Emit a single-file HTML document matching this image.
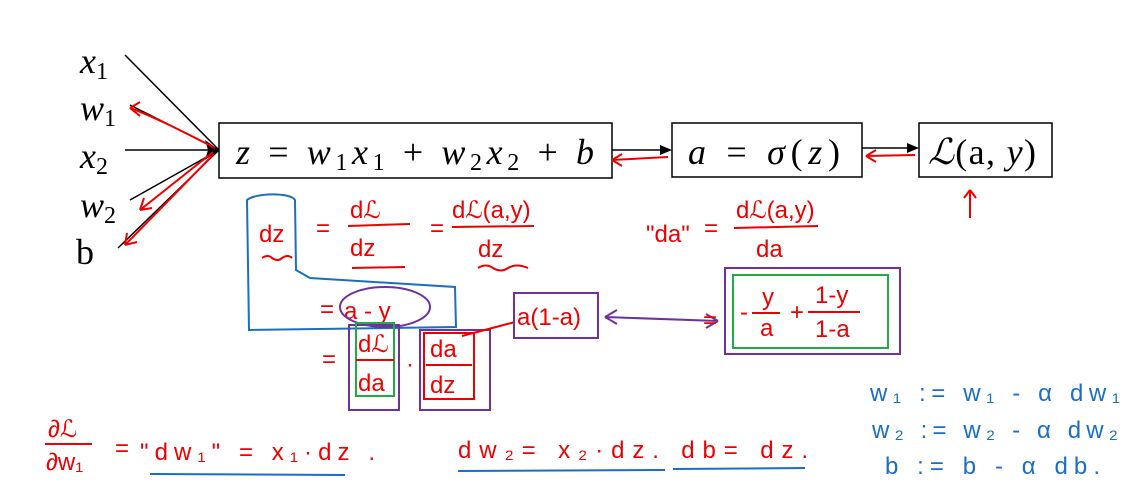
<!DOCTYPE html>
<html><head><meta charset="utf-8"><style>
html,body{margin:0;padding:0;background:#fff;width:1139px;height:495px;overflow:hidden}
svg text{font-family:"Liberation Serif",serif}
.m{font-style:italic;font-size:36px;fill:#000}
.r{font-family:"Liberation Sans",sans-serif!important;fill:#e00;font-size:24px}
.b{font-family:"Liberation Sans",sans-serif!important;fill:#1a6fc4;font-size:24px}
</style></head><body>
<svg width="1139" height="495" viewBox="0 0 1139 495" xmlns="http://www.w3.org/2000/svg">
<text x="80" y="73" class="m">x<tspan font-size="24" dy="6" font-style="normal">1</tspan></text>
<text x="80" y="120" class="m">w<tspan font-size="24" dy="6" font-style="normal">1</tspan></text>
<text x="80" y="168" class="m">x<tspan font-size="24" dy="6" font-style="normal">2</tspan></text>
<text x="80" y="217" class="m">w<tspan font-size="24" dy="6" font-style="normal">2</tspan></text>
<text x="76" y="264" font-size="36" fill="#000">b</text>
<g stroke="#000" stroke-width="1.5">
<line x1="125" y1="55" x2="219" y2="150"/><line x1="130" y1="105" x2="219" y2="150"/>
<line x1="125" y1="150" x2="219" y2="150"/><line x1="130" y1="200" x2="219" y2="150"/>
<line x1="118" y1="248" x2="219" y2="150"/>
</g>
<polygon points="219,150 205,140 208,150 205,160" fill="#000"/>
<g stroke="#e00" stroke-width="2" fill="none">
<path d="M215,148 C180,130 150,115 130,108 M130,108 l10,-6 M130,108 l10,8"/>
<path d="M213,152 L140,210 M140,210 l4,-12 M140,210 l12,-2"/>
<path d="M213,155 L125,245 M125,245 l2,-12 M125,245 l12,-3"/>
</g>
<rect x="219" y="123" width="393" height="55" fill="none" stroke="#000" stroke-width="1.5"/>
<text x="236" y="164" class="m" textLength="358" lengthAdjust="spacing">z <tspan font-style="normal">=</tspan>  w<tspan font-size="24" dy="6" font-style="normal">1</tspan><tspan dy="-6">x</tspan><tspan font-size="24" dy="6" font-style="normal">1</tspan><tspan dy="-6" font-style="normal"> + </tspan>w<tspan font-size="24" dy="6" font-style="normal">2</tspan><tspan dy="-6">x</tspan><tspan font-size="24" dy="6" font-style="normal">2</tspan><tspan dy="-6" font-style="normal"> + </tspan>b</text>
<line x1="612" y1="150" x2="664" y2="150" stroke="#000" stroke-width="1.5"/><polygon points="672,150 660,145 660,155" fill="#000"/>
<rect x="672" y="123" width="190" height="54" fill="none" stroke="#000" stroke-width="1.5"/>
<text x="688" y="164" class="m" textLength="152" lengthAdjust="spacing">a <tspan font-style="normal">=</tspan>  σ<tspan font-style="normal">(</tspan>z<tspan font-style="normal">)</tspan></text>
<line x1="862" y1="148" x2="911" y2="148" stroke="#000" stroke-width="1.5"/><polygon points="919,148 907,143 907,153" fill="#000"/>
<rect x="919" y="123" width="133" height="54" fill="none" stroke="#000" stroke-width="1.5"/>
<text x="928" y="164" font-size="36" fill="#000" textLength="108" lengthAdjust="spacing"><tspan font-style="italic">ℒ</tspan>(a, <tspan font-style="italic">y</tspan>)</text>
<g stroke="#e00" stroke-width="2" fill="none">
<path d="M668,157 L612,160 M612,160 l10,-6 M612,160 l10,6"/>
<path d="M915,155 L866,156 M866,156 l10,-6 M866,156 l10,6"/>
<path d="M970,218 L970,190 M970,190 l-6,8 M970,190 l6,8"/>
</g>
<path d="M247,200 C255,193 290,192 295,200 L296,270 L310,278 L455,287 L456,327 L249,330 Z" fill="none" stroke="#1a6fc4" stroke-width="2"/>
<text x="259" y="242" class="r" font-size="30">dz</text>
<text x="316" y="236" class="r">=</text>
<text x="350" y="218" class="r" font-size="28">dℒ</text><line x1="348" y1="226" x2="410" y2="224" stroke="#e00" stroke-width="2"/>
<text x="350" y="256" class="r" font-size="28">dz</text>
<text x="430" y="236" class="r">=</text>
<text x="452" y="218" class="r" font-size="28">dℒ(a,y)</text><line x1="452" y1="227" x2="534" y2="226" stroke="#e00" stroke-width="2"/>
<text x="478" y="257" class="r" font-size="28">dz</text>
<path d="M262,258 q6,-4 10,0 q6,4 10,0 q6,-4 10,0 M478,268 q8,-5 15,0 q8,5 15,0 q8,-5 20,0 M352,268 L405,267" stroke="#e00" stroke-width="2" fill="none"/>
<text x="646" y="242" class="r" font-size="28">"da"</text><text x="704" y="236" class="r">=</text>
<text x="736" y="218" class="r" font-size="28">dℒ(a,y)</text><line x1="734" y1="228" x2="818" y2="226" stroke="#e00" stroke-width="2"/>
<text x="756" y="257" class="r" font-size="28">da</text>
<text x="320" y="317" class="r">=</text>
<text x="344" y="319" class="r" font-size="30">a - y</text>
<ellipse cx="385" cy="307" rx="45" ry="20" fill="none" stroke="#7030a0" stroke-width="2"/>
<text x="322" y="367" class="r">=</text>
<rect x="349" y="325" width="50" height="85" fill="none" stroke="#7030a0" stroke-width="2"/>
<rect x="356" y="323" width="38" height="73" fill="none" stroke="#22aa44" stroke-width="2"/>
<text x="358" y="352" class="r" font-size="26">dℒ</text><line x1="356" y1="360" x2="394" y2="360" stroke="#e00" stroke-width="2"/>
<text x="358" y="391" class="r" font-size="26">da</text>
<text x="406" y="372" class="r">·</text>
<rect x="420" y="330" width="70" height="80" fill="none" stroke="#7030a0" stroke-width="2"/>
<rect x="424" y="333" width="50" height="66" fill="none" stroke="#e00" stroke-width="2"/>
<text x="430" y="357" class="r" font-size="26">da</text><line x1="426" y1="365" x2="472" y2="365" stroke="#e00" stroke-width="2"/>
<text x="430" y="393" class="r" font-size="26">dz</text>
<path d="M462,336 L515,322" stroke="#e00" stroke-width="2"/>
<rect x="514" y="293" width="84" height="45" fill="none" stroke="#7030a0" stroke-width="2"/>
<text x="517" y="325" class="r" font-size="20">a(1-a)</text>
<path d="M605,317 L718,321 M605,317 l12,-7 M605,317 l12,7 M718,321 l-12,-7 M718,321 l-12,7" stroke="#7030a0" stroke-width="2" fill="none"/>
<text x="703" y="328" class="r">=</text>
<rect x="725" y="268" width="175" height="86" fill="none" stroke="#7030a0" stroke-width="2"/>
<rect x="733" y="275" width="155" height="73" fill="none" stroke="#22aa44" stroke-width="2"/>
<text x="740" y="320" class="r">-</text>
<text x="762" y="305" class="r" font-size="20">y</text><line x1="752" y1="313" x2="780" y2="313" stroke="#e00" stroke-width="2"/><text x="760" y="336" class="r" font-size="20">a</text>
<text x="790" y="320" class="r">+</text>
<text x="815" y="303" class="r" font-size="20">1-y</text><line x1="808" y1="312" x2="860" y2="312" stroke="#e00" stroke-width="2"/><text x="815" y="337" class="r" font-size="20">1-a</text>
<text x="48" y="437" class="r" font-size="24">∂ℒ</text><line x1="45" y1="444" x2="92" y2="444" stroke="#e00" stroke-width="2"/>
<text x="46" y="470" class="r" font-size="22">∂w₁</text>
<text x="115" y="456" class="r">=</text>
<text x="140" y="460" class="r" font-size="30" textLength="235" lengthAdjust="spacing">"dw₁" = x₁·dz .</text>
<line x1="150" y1="474" x2="345" y2="475" stroke="#1a6fc4" stroke-width="2"/>
<text x="458" y="458" class="r" font-size="30" textLength="350" lengthAdjust="spacing">dw₂= x₂·dz.  db= dz.</text>
<line x1="458" y1="471" x2="665" y2="470" stroke="#1a6fc4" stroke-width="2"/>
<line x1="673" y1="469" x2="805" y2="468" stroke="#1a6fc4" stroke-width="2"/>
<text x="870" y="401" class="b" textLength="250" lengthAdjust="spacing">w₁ := w₁ - α dw₁</text>
<text x="872" y="438" class="b" textLength="246" lengthAdjust="spacing">w₂ := w₂ - α dw₂</text>
<text x="885" y="474" class="b" textLength="215" lengthAdjust="spacing">b := b - α db.</text>
</svg>
</body></html>
